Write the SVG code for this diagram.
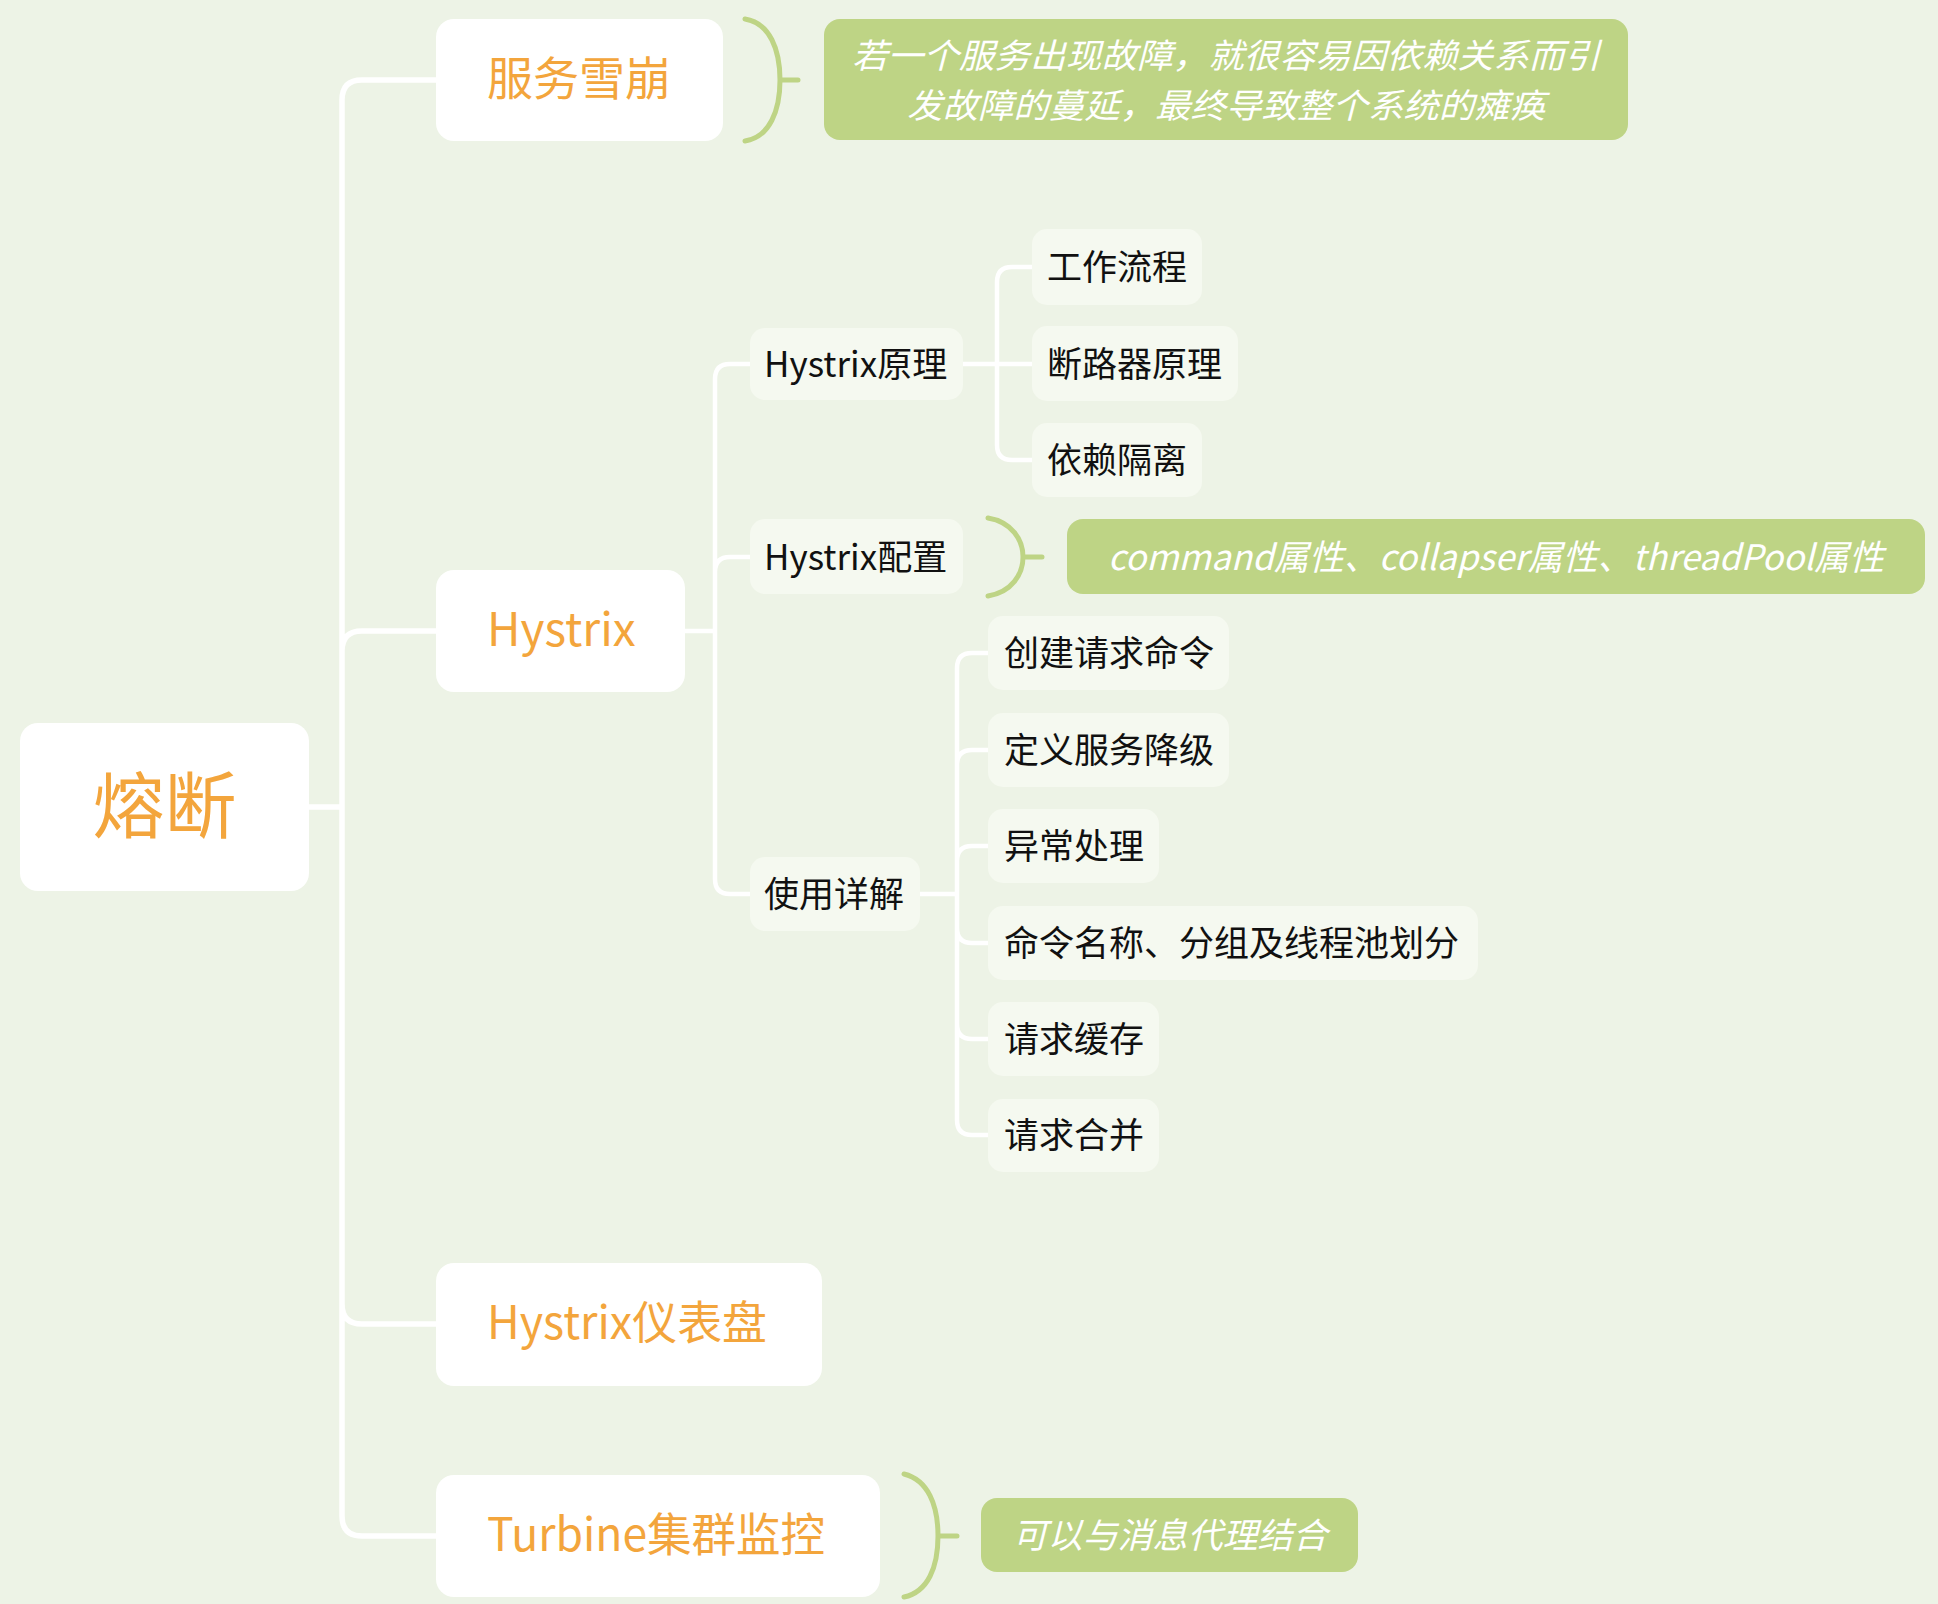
<svg xmlns="http://www.w3.org/2000/svg" width="1938" height="1604" viewBox="0 0 1938 1604">
<style>
text{font-family:"Noto Sans CJK SC","Noto Sans",sans-serif;dominant-baseline:central}
.root{fill:#fff}
.l1{fill:#fff}
.l2{fill:#f5f9f0}
.note{fill:#bed485}
.t0{fill:#f3a53c;font-size:72px}
.t1{fill:#f3a53c;font-size:46px}
.t2{fill:#111;font-size:35px}
.tn{fill:#fff;font-size:35px;font-style:italic}
.tn2{fill:#fff;font-size:34px;font-style:italic}
.c{fill:none;stroke:#fff;stroke-linecap:round}
.br{fill:none;stroke:#bed485;stroke-width:5;stroke-linecap:round}
</style>
<rect width="1938" height="1604" fill="#edf3e6"/>
<g id="connectors">
<path class="c" stroke-width="5.5" d="M309,807 H342 M342,807 V100 Q342,80 362,80 H436 M342,807 V651 Q342,631 362,631 H436 M342,807 V1304 Q342,1324 362,1324 H436 M342,807 V1516 Q342,1536 362,1536 H436"/>
<path class="c" stroke-width="4.5" d="M685,631 H715 M715,631 V379 Q715,364 730,364 H750 M715,631 V572 Q715,557 730,557 H750 M715,631 V879 Q715,894 730,894 H750"/>
<path class="c" stroke-width="4.5" d="M963,364 H1032 M997,364 V282 Q997,267 1012,267 H1032 M997,364 V445 Q997,460 1012,460 H1032"/>
<path class="c" stroke-width="4.5" d="M920,894 H957 M957,894 V668 Q957,653 972,653 H988 M957,894 V765 Q957,750 972,750 H988 M957,894 V861 Q957,846 972,846 H988 M957,894 V928 Q957,943 972,943 H988 M957,894 V1024 Q957,1039 972,1039 H988 M957,894 V1120 Q957,1135 972,1135 H988"/>
</g>
<g id="root">
<rect class="root" x="20" y="723" width="289" height="168" rx="18"/>
<text class="t0" x="164.5" y="800" text-anchor="middle">熔断</text>
</g>
<g id="n-fuwuxuebeng">
<rect class="l1" x="436" y="19" width="287" height="122" rx="18"/>
<text class="t1" x="487" y="75">服务雪崩</text>
</g>
<g id="n-hystrix">
<rect class="l1" x="436" y="570" width="249" height="122" rx="18"/>
<text class="t1" x="487" y="626">Hystrix</text>
</g>
<g id="n-dashboard">
<rect class="l1" x="436" y="1263" width="386" height="123" rx="18"/>
<text class="t1" x="487" y="1319" textLength="280" lengthAdjust="spacingAndGlyphs">Hystrix仪表盘</text>
</g>
<g id="n-turbine">
<rect class="l1" x="436" y="1475" width="444" height="122" rx="18"/>
<text class="t1" x="487" y="1531" textLength="338" lengthAdjust="spacingAndGlyphs">Turbine集群监控</text>
</g>
<g id="n-yuanli">
<rect class="l2" x="750" y="328" width="213" height="72" rx="15"/>
<text class="t2" x="764" y="361">Hystrix原理</text>
</g>
<g id="n-peizhi">
<rect class="l2" x="750" y="519" width="213" height="75" rx="15"/>
<text class="t2" x="764" y="554">Hystrix配置</text>
</g>
<g id="n-shiyong">
<rect class="l2" x="750" y="857" width="170" height="74" rx="15"/>
<text class="t2" x="764" y="891">使用详解</text>
</g>
<g id="n-gongzuo">
<rect class="l2" x="1032" y="229" width="170" height="76" rx="15"/>
<text class="t2" x="1047" y="264">工作流程</text>
</g>
<g id="n-duanluqi">
<rect class="l2" x="1032" y="326" width="206" height="75" rx="15"/>
<text class="t2" x="1047" y="361">断路器原理</text>
</g>
<g id="n-geli">
<rect class="l2" x="1032" y="423" width="170" height="74" rx="15"/>
<text class="t2" x="1047" y="457">依赖隔离</text>
</g>
<g id="n-chuangjian">
<rect class="l2" x="988" y="616" width="241" height="74" rx="15"/>
<text class="t2" x="1004" y="650">创建请求命令</text>
</g>
<g id="n-jiangji">
<rect class="l2" x="988" y="713" width="241" height="74" rx="15"/>
<text class="t2" x="1004" y="747">定义服务降级</text>
</g>
<g id="n-yichang">
<rect class="l2" x="988" y="809" width="171" height="74" rx="15"/>
<text class="t2" x="1004" y="843">异常处理</text>
</g>
<g id="n-mingling">
<rect class="l2" x="988" y="906" width="490" height="74" rx="15"/>
<text class="t2" x="1004" y="940">命令名称、分组及线程池划分</text>
</g>
<g id="n-huancun">
<rect class="l2" x="988" y="1002" width="171" height="74" rx="15"/>
<text class="t2" x="1004" y="1036">请求缓存</text>
</g>
<g id="n-hebing">
<rect class="l2" x="988" y="1099" width="171" height="73" rx="15"/>
<text class="t2" x="1004" y="1132">请求合并</text>
</g>
<g id="note-xuebeng">
<path class="br" d="M745,19 C770,23 780,50 780,80 C780,110 770,137 745,141 M780,80 H798"/>
<rect class="note" x="824" y="19" width="804" height="121" rx="16"/>
<text class="tn2" x="1226" y="53" text-anchor="middle" textLength="748" lengthAdjust="spacingAndGlyphs">若一个服务出现故障，就很容易因依赖关系而引</text>
<text class="tn2" x="1226" y="103" text-anchor="middle" textLength="638" lengthAdjust="spacingAndGlyphs">发故障的蔓延，最终导致整个系统的瘫痪</text>
</g>
<g id="note-peizhi">
<path class="br" d="M988,518 C1012,522 1023,540 1023,557 C1023,574 1012,592 988,596 M1023,557 H1042"/>
<rect class="note" x="1067" y="519" width="858" height="75" rx="16"/>
<text class="tn" x="1496" y="554" text-anchor="middle">command属性、collapser属性、threadPool属性</text>
</g>
<g id="note-turbine">
<path class="br" d="M904,1474 C928,1480 938,1505 938,1536 C938,1567 928,1592 904,1597 M938,1536 H957"/>
<rect class="note" x="981" y="1498" width="377" height="74" rx="16"/>
<text class="tn" x="1170" y="1532" text-anchor="middle">可以与消息代理结合</text>
</g>
</svg>
